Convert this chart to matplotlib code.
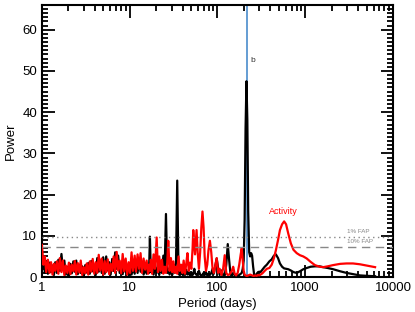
import matplotlib
matplotlib.use("Agg")
import matplotlib.pyplot as plt
from matplotlib.ticker import FixedLocator, LogLocator, MultipleLocator, NullFormatter, FuncFormatter

plt.rcParams['font.family'] = ['Liberation Sans', 'DejaVu Sans']

# period grid (days) shared by both periodograms
period = [
    1.00, 1.04, 1.08, 1.12, 1.17, 1.22, 1.27, 1.32, 1.37, 1.42,
    1.48, 1.54, 1.60, 1.67, 1.73, 1.80, 1.87, 1.95, 2.03, 2.11,
    2.19, 2.28, 2.37, 2.46, 2.56, 2.67, 2.77, 2.88, 3.00, 3.12,
    3.24, 3.37, 3.51, 3.65, 3.79, 3.95, 4.10, 4.27, 4.44, 4.62,
    4.80, 4.99, 5.19, 5.40, 5.62, 5.84, 6.07, 6.32, 6.57, 6.83,
    7.11, 7.39, 7.69, 8.00, 8.32, 8.65, 9.00, 9.36, 9.73, 10.1,
    10.5, 10.9, 11.4, 11.8, 12.3, 12.8, 13.3, 13.8, 14.4, 15.0,
    15.6, 16.2, 16.6, 17.0, 17.4, 18.0, 18.7, 19.4, 20.3, 21.0,
    21.7, 22.5, 23.3, 24.2, 25.0, 25.9, 26.8, 27.5, 28.5, 29.5,
    30.5, 31.5, 32.6, 33.7, 34.8, 36.0, 37.2, 38.5, 39.8, 41.2,
    42.6, 44.0, 45.5, 47.1, 48.7, 50.4, 52.1, 53.0, 54.5, 55.5,
    57.8, 59.5, 61.5, 63.5, 65.5, 67.5, 69.5, 71.5, 74.0, 76.5,
    79.0, 82.0, 85.0, 88.0, 91.0, 94.0, 98.0, 102, 106, 111,
    116, 121, 126, 131, 136, 141, 146, 151, 157, 163,
    170, 177, 184, 189, 194, 199, 204, 209, 214, 219,
    224, 230, 236, 242, 248, 255, 262, 270, 280, 290,
    300, 310, 325, 345, 365, 390, 415, 440, 463, 490,
    515, 545, 575, 605, 640, 685, 735, 800, 870, 950,
    1040, 1150, 1290, 1460, 1600, 1800, 2080, 2500, 2960, 3500,
    4200, 5000, 6250,
]

# RV periodogram (black)
power_rv = [
    2.0, 4.5, 1.0, 3.8, 0.8, 3.5, 1.2, 2.8, 0.5, 3.6,
    1.0, 4.2, 1.5, 5.6, 2.0, 4.0, 0.6, 2.5, 0.4, 3.2,
    0.9, 3.8, 1.3, 4.0, 0.7, 3.0, 1.0, 2.6, 0.3, 2.9,
    1.1, 3.4, 0.8, 3.9, 1.4, 3.0, 0.5, 4.6, 1.3, 4.0,
    1.0, 4.8, 0.8, 5.0, 1.6, 3.6, 0.6, 4.4, 1.5, 6.0,
    2.0, 5.2, 1.0, 3.5, 0.7, 4.0, 1.2, 3.0, 0.5, 2.8,
    0.6, 2.2, 0.8, 3.6, 1.0, 4.4, 1.3, 3.2, 0.6, 2.0,
    0.8, 2.5, 1.0, 9.8, 1.2, 3.0, 0.6, 2.4, 1.0, 3.2,
    0.5, 2.8, 1.0, 5.2, 1.5, 15.3, 1.0, 2.0, 0.6, 2.2,
    0.5, 3.0, 1.0, 3.5, 23.4, 1.2, 0.4, 2.0, 0.6, 1.5,
    0.5, 1.8, 0.6, 1.2, 0.3, 1.0, 0.5, 0.8, 2.0, 1.0,
    0.5, 0.8, 1.5, 0.6, 0.3, 0.6, 1.0, 0.5, 1.2, 0.4,
    0.8, 0.5, 1.0, 2.0, 0.8, 2.5, 4.5, 2.0, 0.5, 1.6,
    0.5, 0.4, 3.0, 8.0, 4.0, 0.6, 0.3, 1.0, 0.5, 0.6,
    0.3, 0.5, 0.8, 1.0, 2.0, 4.0, 14.0, 36.0, 47.5, 38.0,
    16.0, 6.0, 5.0, 5.8, 5.2, 2.5, 0.5, 0.3, 0.8, 1.2,
    1.3, 1.2, 1.8, 2.5, 3.0, 3.8, 4.3, 5.2, 5.5, 4.6,
    3.3, 2.5, 2.1, 2.0, 1.9, 1.6, 1.2, 1.0, 1.4, 1.9,
    2.2, 2.5, 2.6, 2.6, 2.4, 2.2, 1.9, 1.4, 1.0, 0.7,
    0.4, 0.3, 0.2,
]

# activity periodogram (red)
power_act = [
    7.8, 3.0, 5.0, 1.2, 4.2, 1.0, 3.6, 0.6, 3.2, 1.5,
    3.8, 0.8, 4.6, 1.2, 4.0, 0.5, 2.8, 1.0, 3.5, 0.7,
    3.0, 1.4, 3.9, 0.6, 3.4, 1.1, 4.0, 0.5, 2.4, 0.9,
    3.3, 0.6, 3.8, 1.3, 4.4, 0.8, 3.6, 1.0, 5.4, 1.6,
    4.5, 0.6, 3.9, 1.2, 4.3, 0.7, 3.2, 1.5, 5.0, 1.0,
    6.1, 1.6, 4.0, 0.9, 5.6, 1.4, 4.5, 0.6, 3.6, 1.0,
    6.0, 1.5, 5.2, 1.3, 5.5, 2.0, 5.8, 1.0, 4.5, 1.8,
    4.0, 0.8, 3.0, 1.5, 4.2, 0.8, 5.5, 2.0, 9.6, 1.2,
    5.0, 1.5, 4.2, 0.8, 2.5, 1.0, 3.5, 8.8, 1.5, 4.6,
    1.2, 3.8, 1.0, 2.5, 0.8, 5.0, 1.5, 3.0, 1.0, 4.0,
    0.8, 3.0, 5.8, 1.5, 3.5, 2.0, 7.0, 11.4, 8.0, 5.5,
    11.4, 6.0, 2.0, 6.0, 12.0, 15.9, 12.0, 5.0, 1.5, 3.0,
    6.5, 8.8, 6.0, 2.0, 1.0, 2.5, 4.6, 1.0, 2.0, 0.5,
    2.0, 5.3, 1.0, 0.5, 0.6, 1.0, 1.5, 2.5, 0.8, 0.4,
    1.0, 3.0, 5.5, 7.0, 4.0, 1.5, 0.6, 0.4, 0.3, 0.3,
    0.4, 0.5, 0.6, 0.5, 0.4, 0.3, 0.3, 0.4, 0.3, 0.5,
    0.4, 0.6, 0.9, 1.5, 2.0, 2.2, 3.0, 4.6, 6.5, 9.0,
    11.4, 12.8, 13.5, 12.8, 10.6, 8.2, 6.6, 5.8, 5.3, 5.0,
    4.5, 3.7, 2.9, 2.5, 2.4, 2.6, 2.9, 3.2, 3.3, 3.3,
    3.1, 2.8, 2.4,
]

p_planet = 215.0
fap_1 = 9.8
fap_10 = 7.35

fig = plt.figure(figsize=(4.15, 3.12), dpi=100)
ax = fig.add_axes([0.101, 0.112, 0.846, 0.872])

ax.axvline(p_planet, color='#4a8ccc', lw=1.2, zorder=1)
ax.plot(period, power_rv, color='black', lw=1.6, zorder=2)
ax.plot(period, power_act, color='#ff0000', lw=1.6, zorder=3)

ax.axhline(fap_1, color='#888888', lw=1.0, ls=(0, (1, 2.5)), zorder=4)
ax.axhline(fap_10, color='#888888', lw=1.0, ls=(0, (6, 4)), zorder=4)
ax.text(3000, fap_1 + 0.6, '1% FAP', fontsize=4.5, color='#888888', va='bottom')
ax.text(3000, fap_10 + 0.6, '10% FAP', fontsize=4.5, color='#888888', va='bottom')

ax.text(240, 52.6, 'b', fontsize=6, color='#333333', ha='left', va='center')
ax.text(560, 15.9, 'Activity', fontsize=6.5, color='#ff0000', ha='center', va='center')

ax.set_xscale('log')
ax.set_xlim(1, 10000)
ax.set_ylim(0, 66)

ax.xaxis.set_major_locator(FixedLocator([1, 10, 100, 1000, 10000]))
ax.xaxis.set_major_formatter(FuncFormatter(lambda v, pos: '%d' % round(v)))
ax.xaxis.set_minor_locator(LogLocator(base=10, subs=range(2, 10), numticks=20))
ax.xaxis.set_minor_formatter(NullFormatter())
ax.yaxis.set_major_locator(MultipleLocator(10))
ax.yaxis.set_minor_locator(MultipleLocator(1))

ax.tick_params(which='both', direction='in', top=True, right=True, width=1.3, labelsize=9.5)
ax.tick_params(which='major', length=9)
ax.tick_params(which='minor', length=4.5)
for s in ax.spines.values():
    s.set_linewidth(1.5)

ax.set_xlabel('Period (days)', fontsize=9.5, labelpad=3)
ax.set_ylabel('Power', fontsize=9.5)

fig.savefig('out.png', dpi=100)
